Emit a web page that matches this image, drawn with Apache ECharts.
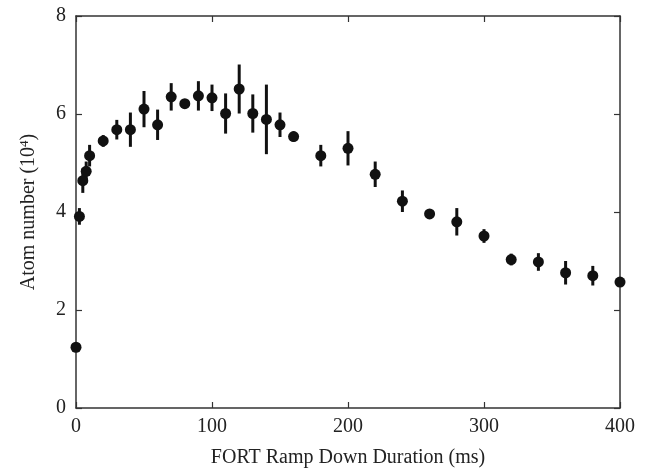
<!DOCTYPE html>
<html>
<head>
<meta charset="utf-8">
<script src="https://cdn.jsdelivr.net/npm/echarts@6/dist/echarts.min.js"></script>
<style>html,body{margin:0;padding:0;background:#fff;}#c{width:646px;height:473px;}</style>
</head>
<body>
<div id="c"></div>
<script>
var durations = [0, 2.5, 5, 7.5, 10, 20, 30, 40, 50, 60, 70, 80, 90, 100, 110, 120, 130, 140, 150, 160, 180, 200, 220, 240, 260, 280, 300, 320, 340, 360, 380, 400];
var atoms = [1.24, 3.91, 4.64, 4.83, 5.15, 5.45, 5.68, 5.68, 6.10, 5.78, 6.35, 6.21, 6.37, 6.33, 6.01, 6.51, 6.01, 5.89, 5.78, 5.54, 5.15, 5.30, 4.77, 4.22, 3.96, 3.80, 3.51, 3.03, 2.98, 2.76, 2.70, 2.57];
var errors = [0.0, 0.17, 0.25, 0.2, 0.22, 0.12, 0.2, 0.35, 0.37, 0.31, 0.28, 0.06, 0.3, 0.27, 0.41, 0.5, 0.39, 0.71, 0.25, 0.1, 0.22, 0.35, 0.26, 0.22, 0.05, 0.28, 0.14, 0.12, 0.18, 0.24, 0.2, 0.05];
var xTicks = [0, 100, 200, 300, 400];
var yTicks = [0, 2, 4, 6, 8];

var points = durations.map(function (d, i) { return [d, atoms[i]]; });
var bars = durations.map(function (d, i) { return [d, atoms[i] - errors[i], atoms[i] + errors[i]]; });

var font = 'Liberation Serif, Times New Roman, serif';
var axisColor = '#333';
function baseAxis(extra) {
  var a = {
    type: 'value',
    axisLine: { show: true, onZero: false, lineStyle: { color: axisColor, width: 1.5 } },
    axisTick: { show: true, inside: true, length: 6, lineStyle: { color: axisColor, width: 1.2 } },
    splitLine: { show: false },
    axisLabel: { color: '#222', fontFamily: font, fontSize: 20 }
  };
  for (var k in extra) a[k] = extra[k];
  return a;
}

var chart = echarts.init(document.getElementById('c'));
chart.setOption({
  animation: false,
  grid: { left: 76, right: 26, top: 16, bottom: 64, containLabel: false },
  xAxis: [
    baseAxis({ min: xTicks[0], max: xTicks[xTicks.length - 1], interval: 100, position: 'bottom',
      name: 'FORT Ramp Down Duration (ms)', nameLocation: 'middle', nameGap: 40,
      nameTextStyle: { color: '#222', fontFamily: font, fontSize: 20 },
      axisLabel: { color: '#222', fontFamily: font, fontSize: 20, margin: 9 } }),
    baseAxis({ min: xTicks[0], max: xTicks[xTicks.length - 1], interval: 100, position: 'top',
      axisLabel: { show: false } })
  ],
  yAxis: [
    baseAxis({ min: yTicks[0], max: yTicks[yTicks.length - 1], interval: 2, position: 'left',
      name: 'Atom number (10{sup|4})', nameLocation: 'middle', nameGap: 37,
      nameTextStyle: { color: '#222', fontFamily: font, fontSize: 20,
        rich: { sup: { fontFamily: font, fontSize: 13, color: '#222', verticalAlign: 'top', padding: [0, 0, 8, 0] } } },
      axisLabel: { color: '#222', fontFamily: font, fontSize: 20, margin: 10 } }),
    baseAxis({ min: yTicks[0], max: yTicks[yTicks.length - 1], interval: 2, position: 'right',
      axisLabel: { show: false } })
  ],
  series: [
    {
      type: 'custom',
      xAxisIndex: 0, yAxisIndex: 0,
      data: bars,
      renderItem: function (params, api) {
        var x = api.value(0);
        var lo = api.coord([x, api.value(1)]);
        var hi = api.coord([x, api.value(2)]);
        return {
          type: 'line',
          shape: { x1: lo[0], y1: lo[1], x2: hi[0], y2: hi[1] },
          style: { stroke: '#111', lineWidth: 3 }
        };
      },
      z: 2
    },
    {
      type: 'scatter',
      xAxisIndex: 0, yAxisIndex: 0,
      data: points,
      symbol: 'circle',
      symbolSize: 11,
      itemStyle: { color: '#111', opacity: 1 },
      z: 3
    }
  ]
});
</script>
</body>
</html>
